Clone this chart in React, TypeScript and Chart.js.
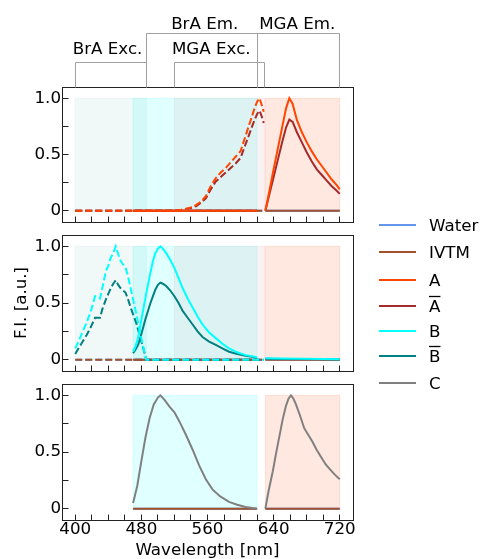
import React, { useEffect, useRef } from "react";
import { Chart, registerables } from "chart.js";

Chart.register(...registerables);

// ---------------- data ----------------
const FONT_FAMILY = "'DejaVu Sans', sans-serif";
const FONT_SIZE = 16.7;

const X_MIN = 384;
const X_MAX = 736;
const Y_MIN = -0.1;
const Y_MAX = 1.1;
const X_TICKS = [400, 480, 560, 640, 720];
const X_MINOR_TICKS = [400, 420, 440, 460, 480, 500, 520, 540, 560, 580, 600, 620, 640, 660, 680, 700, 720];
const Y_TICKS = [0, 0.5, 1];
const Y_MINOR_TICKS = [0, 0.25, 0.5, 0.75, 1];
const X_TITLE = "Wavelength [nm]";
const Y_TITLE = "F.I. [a.u.]";

// detection windows (nm)
const REGION_START = [400, 470, 520, 630];
const REGION_END = [486, 620, 629, 720];
const REGION_COLOR = [
  "rgba(0,128,128,0.06)",
  "rgba(0,255,255,0.12)",
  "rgba(165,42,42,0.06)",
  "rgba(255,69,0,0.12)",
];
const PANEL_REGIONS = [[1, 0, 2, 3], [1, 0, 2, 3], [1, 3]];

// brackets above the top panel
const BRACKET_LABELS = ["BrA Exc.", "BrA Em.", "MGA Exc.", "MGA Em."];
const BRACKET_START = [400, 486, 520, 620];
const BRACKET_END = [486, 620, 629, 720];
const BRACKET_LABEL_X = [397, 516, 517, 622.5];
const BRACKET_HIGH = [false, true, false, true];

// legend
const LEGEND_LABELS = ["Water", "IVTM", "A", "A", "B", "B", "C"];
const LEGEND_OVERLINE = [false, false, false, true, false, true, false];
const SERIES_COLORS = ["#6495ed", "#a0522d", "#ff4500", "#a52a2a", "#00ffff", "#008080", "#808080"];

// blank (zero) traces
const WATER_EXC_WL = [400, 628];
const WATER_EXC = [0, 0];
const WATER_EM_WL = [470, 620, 625, 630, 720];
const WATER_EM = [0, 0, null, 0, 0];
const IVTM_EXC_WL = [400, 628];
const IVTM_EXC = [0, 0];
const IVTM_EM_WL = [470, 620, 625, 630, 720];
const IVTM_EM = [0, 0, null, 0, 0];

// A
const A_EXC_WL = [400, 440, 480, 520, 530, 540, 546, 552, 558, 564, 570, 576, 582, 588, 594, 600, 604, 608, 612, 616, 620, 623, 626, 628];
const A_EXC = [0, 0, 0, 0, 0.01, 0.03, 0.05, 0.08, 0.13, 0.22, 0.29, 0.34, 0.38, 0.43, 0.48, 0.53, 0.62, 0.71, 0.8, 0.89, 0.97, 1.0, 0.93, 0.88];
const A_BAR_EXC = [0, 0, 0, 0, 0.01, 0.025, 0.04, 0.07, 0.11, 0.19, 0.26, 0.3, 0.34, 0.38, 0.42, 0.47, 0.55, 0.63, 0.71, 0.79, 0.86, 0.89, 0.83, 0.78];
const A_EM_WL = [470, 620, 625, 630, 635, 640, 645, 650, 655, 659, 663, 668, 674, 680, 686, 692, 698, 704, 710, 716, 720];
const A_EM = [0, 0, null, 0, 0.18, 0.37, 0.55, 0.73, 0.91, 1.0, 0.95, 0.81, 0.7, 0.61, 0.53, 0.46, 0.4, 0.34, 0.28, 0.23, 0.19];
const A_BAR_EM = [0, 0, null, 0, 0.15, 0.3, 0.45, 0.6, 0.74, 0.81, 0.79, 0.7, 0.61, 0.52, 0.44, 0.37, 0.32, 0.27, 0.22, 0.18, 0.15];

// B
const B_EXC_WL = [400, 404, 409, 414, 419, 424, 430, 433, 437, 440, 443, 446, 449, 452, 455, 458, 461, 464, 467, 470, 474, 477, 480, 483, 486, 520, 560, 600, 628];
const B_EXC = [0.1, 0.16, 0.25, 0.33, 0.43, 0.56, 0.54, 0.64, 0.78, 0.83, 0.9, 0.94, 1.0, 0.93, 0.87, 0.84, 0.81, 0.73, 0.63, 0.53, 0.4, 0.29, 0.19, 0.09, 0, 0, 0, 0, 0];
const B_BAR_EXC = [0.05, 0.1, 0.16, 0.22, 0.29, 0.37, 0.37, 0.45, 0.53, 0.58, 0.63, 0.67, 0.7, 0.66, 0.63, 0.61, 0.59, 0.53, 0.46, 0.4, 0.32, 0.24, 0.16, 0.08, 0, 0, 0, 0, 0];
const B_EM_WL = [470, 473, 476, 479, 482, 485, 488, 491, 494, 497, 500, 503, 506, 510, 515, 520, 525, 530, 536, 542, 548, 554, 562, 570, 578, 586, 596, 606, 614, 620, 625, 630, 650, 680, 720];
const B_EM = [0.07, 0.12, 0.19, 0.31, 0.43, 0.55, 0.66, 0.77, 0.87, 0.94, 0.98, 1.0, 0.98, 0.94, 0.88, 0.81, 0.72, 0.63, 0.54, 0.46, 0.38, 0.31, 0.24, 0.19, 0.14, 0.1, 0.065, 0.04, 0.03, 0.02, null, 0.012, 0.01, 0.008, 0.004];
const B_BAR_EM = [0.056, 0.09, 0.13, 0.2, 0.28, 0.36, 0.43, 0.5, 0.56, 0.62, 0.66, 0.68, 0.67, 0.65, 0.61, 0.56, 0.5, 0.43, 0.37, 0.31, 0.25, 0.2, 0.16, 0.13, 0.1, 0.07, 0.05, 0.035, 0.025, 0.015, null, 0.008, 0.006, 0.005, 0.002];

// C
const C_EM_WL = [470, 475, 480, 485, 490, 495, 500, 503, 508, 514, 520, 526, 534, 542, 550, 558, 566, 575, 586, 596, 606, 614, 620, 625, 630, 634, 639, 643, 647, 651, 655, 658, 661, 664, 667, 672, 677, 682, 687, 692, 697, 703, 709, 714, 720];
const C_EM = [0.05, 0.2, 0.42, 0.63, 0.8, 0.92, 0.98, 1.0, 0.96, 0.9, 0.85, 0.77, 0.65, 0.52, 0.38, 0.26, 0.17, 0.11, 0.06, 0.035, 0.015, 0.005, 0, null, 0, 0.16, 0.33, 0.49, 0.64, 0.79, 0.91, 0.97, 1.0, 0.97, 0.92, 0.82, 0.71, 0.65, 0.59, 0.52, 0.46, 0.39, 0.34, 0.3, 0.26];

// ---------------- layout ----------------
const W = 481;
const H = 559;
const AX_LEFT = 62;
const AX_RIGHT = 353;
const PANEL_TOP = [87, 235, 384];
const PANEL_BOTTOM = [222, 371, 520];
const Y_AXIS_W = 56;
const X_AXIS_H = 39;
const FONT = `${FONT_SIZE}px ${FONT_FAMILY}`;

type Trace = { wl: number[]; v: (number | null)[]; color: string; dashed: boolean };

const PANEL_TRACES: Trace[][] = [
  [
    { wl: WATER_EXC_WL, v: WATER_EXC, color: SERIES_COLORS[0], dashed: true },
    { wl: WATER_EM_WL, v: WATER_EM, color: SERIES_COLORS[0], dashed: false },
    { wl: IVTM_EXC_WL, v: IVTM_EXC, color: SERIES_COLORS[1], dashed: true },
    { wl: IVTM_EM_WL, v: IVTM_EM, color: SERIES_COLORS[1], dashed: false },
    { wl: A_EXC_WL, v: A_BAR_EXC, color: SERIES_COLORS[3], dashed: true },
    { wl: A_EM_WL, v: A_BAR_EM, color: SERIES_COLORS[3], dashed: false },
    { wl: A_EXC_WL, v: A_EXC, color: SERIES_COLORS[2], dashed: true },
    { wl: A_EM_WL, v: A_EM, color: SERIES_COLORS[2], dashed: false },
  ],
  [
    { wl: WATER_EXC_WL, v: WATER_EXC, color: SERIES_COLORS[0], dashed: true },
    { wl: WATER_EM_WL, v: WATER_EM, color: SERIES_COLORS[0], dashed: false },
    { wl: IVTM_EXC_WL, v: IVTM_EXC, color: SERIES_COLORS[1], dashed: true },
    { wl: IVTM_EM_WL, v: IVTM_EM, color: SERIES_COLORS[1], dashed: false },
    { wl: B_EXC_WL, v: B_BAR_EXC, color: SERIES_COLORS[5], dashed: true },
    { wl: B_EM_WL, v: B_BAR_EM, color: SERIES_COLORS[5], dashed: false },
    { wl: B_EXC_WL, v: B_EXC, color: SERIES_COLORS[4], dashed: true },
    { wl: B_EM_WL, v: B_EM, color: SERIES_COLORS[4], dashed: false },
  ],
  [
    { wl: WATER_EM_WL, v: WATER_EM, color: SERIES_COLORS[0], dashed: false },
    { wl: IVTM_EM_WL, v: IVTM_EM, color: SERIES_COLORS[1], dashed: false },
    { wl: C_EM_WL, v: C_EM, color: SERIES_COLORS[6], dashed: false },
  ],
];

function makeDecor(p: number) {
  return {
    id: "decor" + p,
    beforeDatasetsDraw(chart: any) {
      const { ctx, scales } = chart;
      const x = scales.x;
      const y = scales.y;
      ctx.save();
      for (const r of PANEL_REGIONS[p]) {
        const x0 = x.getPixelForValue(REGION_START[r]);
        const x1 = x.getPixelForValue(REGION_END[r]);
        const y0 = y.getPixelForValue(1);
        const y1 = y.getPixelForValue(0);
        ctx.fillStyle = REGION_COLOR[r];
        ctx.fillRect(x0, y0, x1 - x0, y1 - y0);
        ctx.strokeStyle = REGION_COLOR[r];
        ctx.lineWidth = 1;
        ctx.strokeRect(x0, y0, x1 - x0, y1 - y0);
      }
      ctx.restore();
    },
    afterDraw(chart: any) {
      const { ctx, chartArea, scales } = chart;
      const x = scales.x;
      const y = scales.y;
      const L = Math.floor(chartArea.left) + 0.5;
      const R = Math.floor(chartArea.right) + 0.5;
      const T = Math.floor(chartArea.top) + 0.5;
      const B = Math.floor(chartArea.bottom) + 0.5;
      ctx.save();
      // inward ticks
      ctx.strokeStyle = "#222";
      ctx.lineWidth = 1;
      ctx.beginPath();
      for (const v of X_MINOR_TICKS) {
        const px = Math.floor(x.getPixelForValue(v)) + 0.5;
        ctx.moveTo(px, B);
        ctx.lineTo(px, B - 6);
      }
      for (const v of Y_MINOR_TICKS) {
        const py = Math.floor(y.getPixelForValue(v)) + 0.5;
        ctx.moveTo(L, py);
        ctx.lineTo(L + 6, py);
      }
      ctx.stroke();
      // frame
      ctx.strokeStyle = "#222";
      ctx.strokeRect(L, T, R - L, B - T);

      ctx.fillStyle = "#000";
      ctx.font = FONT;
      // brackets
      if (p === 0) {
        ctx.strokeStyle = "#a0a0a0";
        ctx.lineWidth = 1;
        for (let i = 0; i < BRACKET_LABELS.length; i++) {
          const lv = BRACKET_HIGH[i] ? 33.5 : 62.5;
          const x0 = Math.floor(x.getPixelForValue(BRACKET_START[i])) + 0.5;
          const x1 = Math.floor(x.getPixelForValue(BRACKET_END[i])) + 0.5;
          ctx.beginPath();
          ctx.moveTo(x0, T);
          ctx.lineTo(x0, lv);
          ctx.lineTo(x1, lv);
          ctx.lineTo(x1, T);
          ctx.stroke();
          ctx.textAlign = "left";
          ctx.textBaseline = "alphabetic";
          ctx.fillText(BRACKET_LABELS[i], x.getPixelForValue(BRACKET_LABEL_X[i]), BRACKET_HIGH[i] ? 28.5 : 53.5);
        }
      }
      // legend + y title
      if (p === 1) {
        const rows = [225, 252, 280, 306, 331, 356, 383];
        for (let i = 0; i < LEGEND_LABELS.length; i++) {
          const yy = rows[i];
          ctx.strokeStyle = SERIES_COLORS[i];
          ctx.lineWidth = 2;
          ctx.beginPath();
          ctx.moveTo(379, yy);
          ctx.lineTo(416, yy);
          ctx.stroke();
          ctx.textAlign = "left";
          ctx.textBaseline = "alphabetic";
          ctx.fillStyle = "#000";
          ctx.fillText(LEGEND_LABELS[i], 429, yy + 6);
          if (LEGEND_OVERLINE[i]) {
            const w = ctx.measureText(LEGEND_LABELS[i]).width;
            ctx.strokeStyle = "#000";
            ctx.lineWidth = 1.3;
            ctx.beginPath();
            ctx.moveTo(429, yy - 9.5);
            ctx.lineTo(429 + w, yy - 9.5);
            ctx.stroke();
          }
        }
        ctx.save();
        ctx.translate(26, (chartArea.top + chartArea.bottom) / 2);
        ctx.rotate(-Math.PI / 2);
        ctx.textAlign = "center";
        ctx.textBaseline = "alphabetic";
        ctx.fillText(Y_TITLE, 0, 0);
        ctx.restore();
      }
      if (p === 2) {
        ctx.textAlign = "center";
        ctx.textBaseline = "alphabetic";
        ctx.fillText(X_TITLE, (chartArea.left + chartArea.right) / 2, 554.5);
      }
      ctx.restore();
    },
  };
}

function buildConfig(p: number): any {
  const traces = PANEL_TRACES[p];
  const datasets = traces.map((t, i) => ({
    data: t.wl.map((w, k) => ({ x: w, y: t.v[k] })),
    borderColor: t.color,
    backgroundColor: t.color,
    borderWidth: 2,
    borderDash: t.dashed ? [7, 3] : [],
    pointRadius: 0,
    fill: false,
    tension: 0,
    spanGaps: false,
    order: -i,
  }));
  const showX = p === 2;
  return {
    type: "line",
    data: { datasets },
    plugins: [makeDecor(p)],
    options: {
      animation: false,
      responsive: false,
      events: [],
      layout: {
        padding: {
          left: AX_LEFT - Y_AXIS_W,
          right: W - AX_RIGHT,
          top: PANEL_TOP[p],
          bottom: showX ? H - PANEL_BOTTOM[p] - X_AXIS_H : H - PANEL_BOTTOM[p],
        },
      },
      plugins: { legend: { display: false }, tooltip: { enabled: false } },
      scales: {
        x: {
          type: "linear",
          min: X_MIN,
          max: X_MAX,
          display: showX,
          grid: { display: false, drawTicks: false },
          border: { display: false },
          afterBuildTicks: (s: any) => {
            s.ticks = X_TICKS.map((v) => ({ value: v }));
          },
          afterFit: (s: any) => {
            s.height = showX ? X_AXIS_H : 0;
          },
          ticks: {
            padding: 0,
            maxRotation: 0,
            autoSkip: false,
            color: "#000",
            font: { family: FONT_FAMILY, size: FONT_SIZE },
            callback: (v: any) => String(v),
          },
        },
        y: {
          type: "linear",
          min: Y_MIN,
          max: Y_MAX,
          grid: { display: false, drawTicks: false },
          border: { display: false },
          afterBuildTicks: (s: any) => {
            s.ticks = Y_TICKS.map((v) => ({ value: v }));
          },
          afterFit: (s: any) => {
            s.width = Y_AXIS_W;
          },
          ticks: {
            padding: 1,
            color: "#000",
            font: { family: FONT_FAMILY, size: FONT_SIZE },
            callback: (v: any) => (Number(v) === 0 ? "0" : Number(v).toFixed(1)),
          },
        },
      },
    },
  };
}

export default function App() {
  const r0 = useRef<HTMLCanvasElement>(null);
  const r1 = useRef<HTMLCanvasElement>(null);
  const r2 = useRef<HTMLCanvasElement>(null);
  const refs = [r0, r1, r2];
  useEffect(() => {
    const charts = refs.map((ref, p) => new Chart(ref.current as HTMLCanvasElement, buildConfig(p)));
    return () => charts.forEach((c) => c.destroy());
  }, []);
  return (
    <div style={{ position: "absolute", left: 0, top: 0, width: W, height: H, background: "#fff" }}>
      {refs.map((ref, i) => (
        <canvas
          key={i}
          ref={ref}
          width={W}
          height={H}
          style={{ position: "absolute", left: 0, top: 0, width: W, height: H }}
        />
      ))}
    </div>
  );
}
